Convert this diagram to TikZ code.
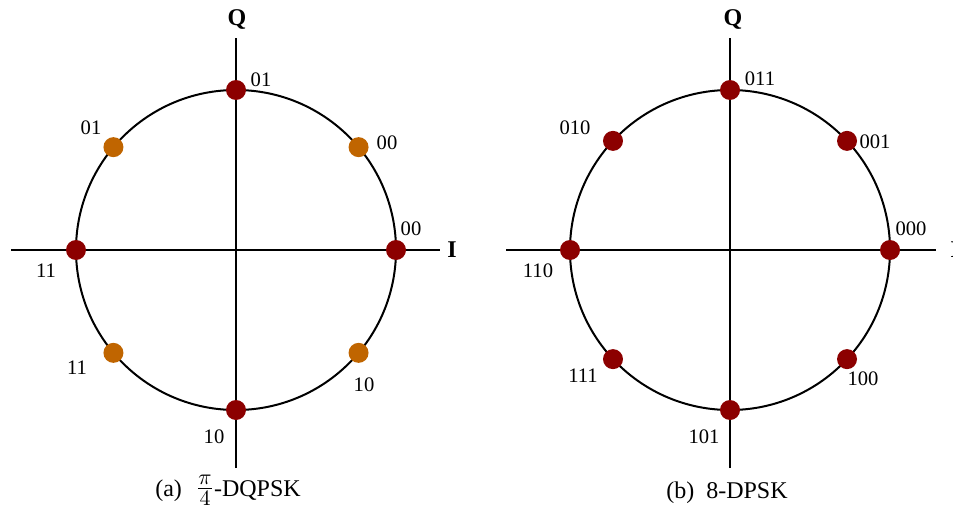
\documentclass[tikz,border=0pt]{standalone}
\usepackage{fontspec}
\setmainfont{Liberation Serif}
\usetikzlibrary{positioning}
\definecolor{symred}{RGB}{140,0,0}
\definecolor{symorange}{RGB}{192,101,0}

\tikzset{
  axisline/.style={line width=1pt,black},
  ring/.style={line width=1pt,black},
  symdot/.style={circle,fill=#1,draw=none,inner sep=0pt,minimum size=10pt},
  bits/.style={font=\fontsize{10.3}{12}\selectfont,inner sep=0pt},
  axislbl/.style={font=\fontsize{12}{14}\selectfont\bfseries,inner sep=0pt},
  caption/.style={font=\fontsize{12}{14}\selectfont,inner sep=0pt,anchor=base}
}

\begin{document}
\begin{tikzpicture}[x=0.5pt,y=0.5pt]
\useasboundingbox (0,0) rectangle (953,510);
% ---------- (a) pi/4-DQPSK ----------
\begin{scope}[shift={(236,260)}]
\coordinate (a-o) at (0,0);
\coordinate (a-w) at (-225,0);
\coordinate (a-e) at (204,0);
\coordinate (a-n) at (0,212);
\coordinate (a-s) at (0,-218);
\draw[axisline] (a-w) -- (a-e);
\draw[axisline] (a-s) -- (a-n);
\draw[ring] (a-o) circle[radius=160];
\node[axislbl] (a-q) at (1,230) {Q};
\node[axislbl,anchor=west] (a-i) at (211,0) {I};
\foreach \ang/\col/\lb/\lx/\ly in {0/symred/00/175/21, 40/symorange/00/151/107,
                                   90/symred/01/25/170, 140/symorange/01/-145/122,
                                   180/symred/11/-190/-21, 220/symorange/11/-159/-118,
                                   270/symred/10/-22/-187, 320/symorange/10/128/-135}{
  \node[symdot=\col] (a-pt\ang) at (\ang:160) {};
  \node[bits] (a-lb\ang) at (\lx,\ly) {\lb};
}
\node[caption] (a-cap) at (-8,-246)
  {(a)\hspace{7pt}{\fontsize{15}{18}\selectfont$\frac{\pi}{4}$}-DQPSK};
\end{scope}
% ---------- (b) 8-DPSK ----------
\begin{scope}[shift={(730,260)}]
\coordinate (b-o) at (0,0);
\coordinate (b-w) at (-224,0);
\coordinate (b-e) at (206,0);
\coordinate (b-n) at (0,212);
\coordinate (b-s) at (0,-218);
\draw[axisline] (b-w) -- (b-e);
\draw[axisline] (b-s) -- (b-n);
\draw[ring] (b-o) circle[radius=160];
\node[axislbl] (b-q) at (3,230) {Q};
\node[axislbl,anchor=west] (b-i) at (220,0) {I};
\foreach \ang/\lb/\lx/\ly in {0/000/181/21, 43/001/145/108, 90/011/30/171, 137/010/-155/122,
                              180/110/-192/-21, 223/111/-147/-126, 270/101/-26/-187, 317/100/133/-129}{
  \node[symdot=symred] (b-pt\ang) at (\ang:160) {};
  \node[bits] (b-lb\ang) at (\lx,\ly) {\lb};
}
\node[caption] (b-cap) at (-3,-248) {(b)\enspace 8-DPSK};
\end{scope}
\end{tikzpicture}
\end{document}
